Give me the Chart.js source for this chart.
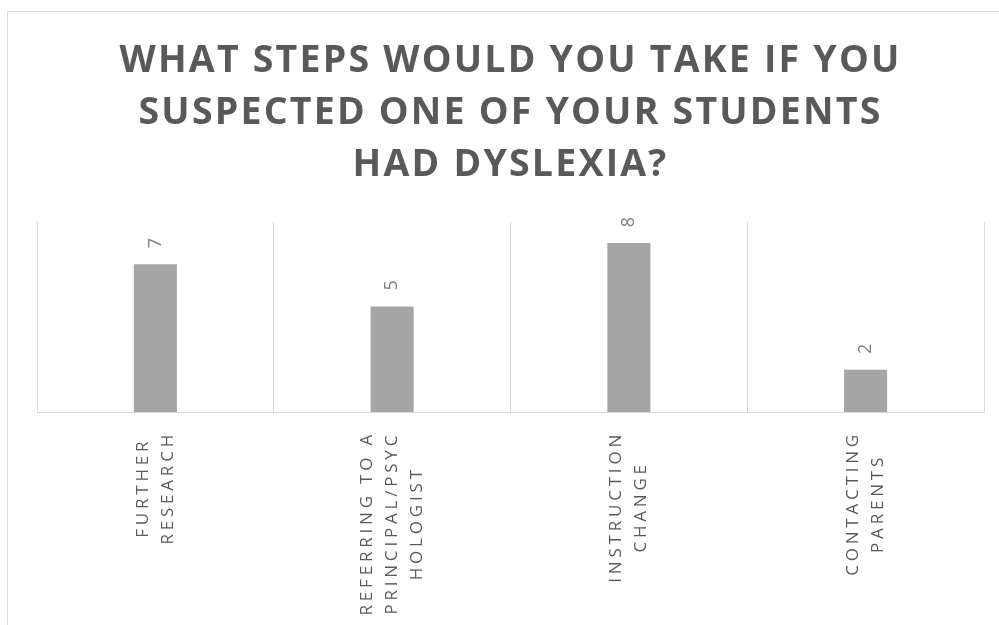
<!DOCTYPE html>
<html>
<head>
<meta charset="utf-8">
<script src="https://cdn.jsdelivr.net/npm/chart.js@4"></script>
<style>
  html, body { margin: 0; padding: 0; background: #fff; overflow: hidden; }
  #frame { position: absolute; left: 7px; top: 11px; width: 1100px; height: 700px; border: 1px solid #d9d9d9; }
  #wrap { position: absolute; left: 0; top: 0; width: 999px; height: 625px; }
</style>
</head>
<body>
<div id="frame"></div>
<div id="wrap"><canvas id="stepsChart"></canvas></div>
<script>
// Chart data
const titleLines = ['WHAT STEPS WOULD YOU TAKE IF YOU', 'SUSPECTED ONE OF YOUR STUDENTS', 'HAD DYSLEXIA?'];
const categories = [
  ['FURTHER', 'RESEARCH'],
  ['REFERRING TO A', 'PRINCIPAL/PSYC', 'HOLOGIST'],
  ['INSTRUCTION', 'CHANGE'],
  ['CONTACTING', 'PARENTS']
];
const counts = [7, 5, 8, 2];
const yMin = 0;
const yMax = 9;

// Draws the rotated value labels and the rotated, centred category labels
const rotatedLabels = {
  id: 'rotatedLabels',
  beforeDraw(chart) {
    chart.ctx.letterSpacing = '2.2px'; // spaced-out title
  },
  afterDatasetsDraw(chart) {
    const ctx = chart.ctx;
    const xScale = chart.scales.x;
    const meta = chart.getDatasetMeta(0);
    ctx.save();
    ctx.textAlign = 'center';
    ctx.textBaseline = 'middle';

    // value labels
    ctx.letterSpacing = '0px';
    ctx.font = '18px "Open Sans"';
    ctx.fillStyle = '#7f7f7f';
    meta.data.forEach((bar, i) => {
      ctx.save();
      ctx.translate(bar.x, bar.y - 21);
      ctx.rotate(-Math.PI / 2);
      ctx.fillText(String(counts[i]), 0, 0);
      ctx.restore();
    });

    // category labels
    ctx.letterSpacing = '3.8px';
    ctx.font = '17px "Open Sans"';
    ctx.fillStyle = '#595959';
    categories.forEach((lines, i) => {
      const px = xScale.getPixelForValue(i);
      const w = Math.max(...lines.map(l => ctx.measureText(l).width));
      ctx.save();
      ctx.translate(px, chart.chartArea.bottom + 19 + w / 2);
      ctx.rotate(-Math.PI / 2);
      lines.forEach((l, k) => ctx.fillText(l, 0, (k - (lines.length - 1) / 2) * 25));
      ctx.restore();
    });
    ctx.restore();
  }
};

const ctxBar = document.getElementById('stepsChart').getContext('2d');
const stepsChart = new Chart(ctxBar, {
  type: 'bar',
  data: {
    labels: categories.map(l => l.join(' ')),
    datasets: [{
      data: counts,
      backgroundColor: '#a5a5a5',
      barPercentage: 0.182,
      categoryPercentage: 1
    }]
  },
  options: {
    responsive: true,
    maintainAspectRatio: false,
    animation: false,
    layout: { padding: { left: 37, right: 15, top: 0, bottom: 213 } },
    plugins: {
      legend: { display: false },
      tooltip: { enabled: false },
      title: {
        display: true,
        text: titleLines,
        color: '#595959',
        font: { family: '"Open Sans"', size: 37.5, weight: 'bold', lineHeight: 52 / 37.5 },
        padding: { top: 35, bottom: 31 }
      }
    },
    scales: {
      x: {
        grid: { color: '#d9d9d9', drawTicks: false, offset: true },
        border: { color: '#d9d9d9' },
        ticks: { display: false }
      },
      y: { display: false, min: yMin, max: yMax }
    }
  },
  plugins: [rotatedLabels]
});
</script>
</body>
</html>
